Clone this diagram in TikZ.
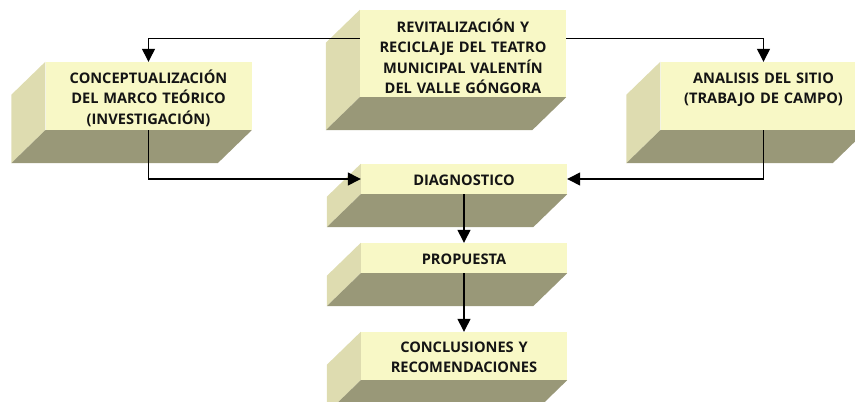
\documentclass[tikz,border=0pt]{standalone}
\usepackage{fontspec}
\setmainfont{Open Sans}[BoldFont={Open Sans Bold}]
\usetikzlibrary{arrows.meta,calc}
\definecolor{frontc}{HTML}{F8F8C6}
\definecolor{sidec}{HTML}{DEDCB0}
\definecolor{botc}{HTML}{999878}
\definecolor{txtc}{HTML}{141414}
\tikzset{
  front/.style={rectangle,inner sep=0pt,fill=frontc,minimum width=206pt},
  lbl/.style={inner sep=0pt,anchor=base,text width=204pt,align=center,
    font=\fontsize{14.6}{20.5}\selectfont\bfseries,text=txtc},
  arr/.style={line width=1.3pt,-{Triangle[length=13pt,width=13pt]}},
}
\begin{document}
\begin{tikzpicture}[x=1pt,y=-1pt]
\useasboundingbox (0,0) rectangle (855,402);
% front faces
\node[front,minimum height=87pt] (top) at (463,53.5) {};
\node[front,minimum height=68pt] (left) at (148.5,96) {};
\node[front,minimum height=68pt] (right) at (763.5,96) {};
\node[front,minimum height=30pt] (diag) at (464,179) {};
\node[front,minimum height=30pt] (prop) at (464,258) {};
\node[front,minimum height=48pt] (concl) at (464,356) {};
% side and bottom faces
\foreach \b in {top,left,right,diag,prop,concl}{
  \fill[sidec] (\b.north west) -- ([shift={(-34,33)}]\b.north west)
    -- ([shift={(-34,33)}]\b.south west) -- (\b.south west) -- cycle;
  \fill[botc] (\b.south west) -- (\b.south east)
    -- ([shift={(-34,33)}]\b.south east) -- ([shift={(-34,33)}]\b.south west) -- cycle;
}
% labels
\node[lbl] (ttop) at ($(top.north)+(0,22.4)$) {REVITALIZACIÓN Y\\RECICLAJE DEL TEATRO\\MUNICIPAL VALENTÍN\\DEL VALLE GÓNGORA};
\node[lbl] (tleft) at ($(left.north)+(0,21.4)$) {CONCEPTUALIZACIÓN\\DEL MARCO TEÓRICO\\(INVESTIGACIÓN)};
\node[lbl] (tright) at ($(right.north)+(0,21.4)$) {ANALISIS DEL SITIO\\(TRABAJO DE CAMPO)};
\node[lbl] (tdiag) at ($(diag.north)+(0,21.5)$) {DIAGNOSTICO};
\node[lbl] (tprop) at ($(prop.north)+(0,22)$) {PROPUESTA};
\node[lbl] (tconcl) at ($(concl.north)+(0,20.4)$) {CONCLUSIONES Y\\RECOMENDACIONES};
% connectors
\coordinate (tl) at ($(top.north west)+(0,29)$);
\coordinate (tr) at ($(top.north east)+(0,29)$);
\draw[arr] (tl) -| (left.north);
\draw[arr] (tr) -| (right.north);
\draw[arr] (left.south) |- (diag.west);
\draw[arr] (right.south) |- (diag.east);
\draw[arr] (diag.south) -- (prop.north);
\draw[arr] (prop.south) -- (concl.north);
\end{tikzpicture}
\end{document}
